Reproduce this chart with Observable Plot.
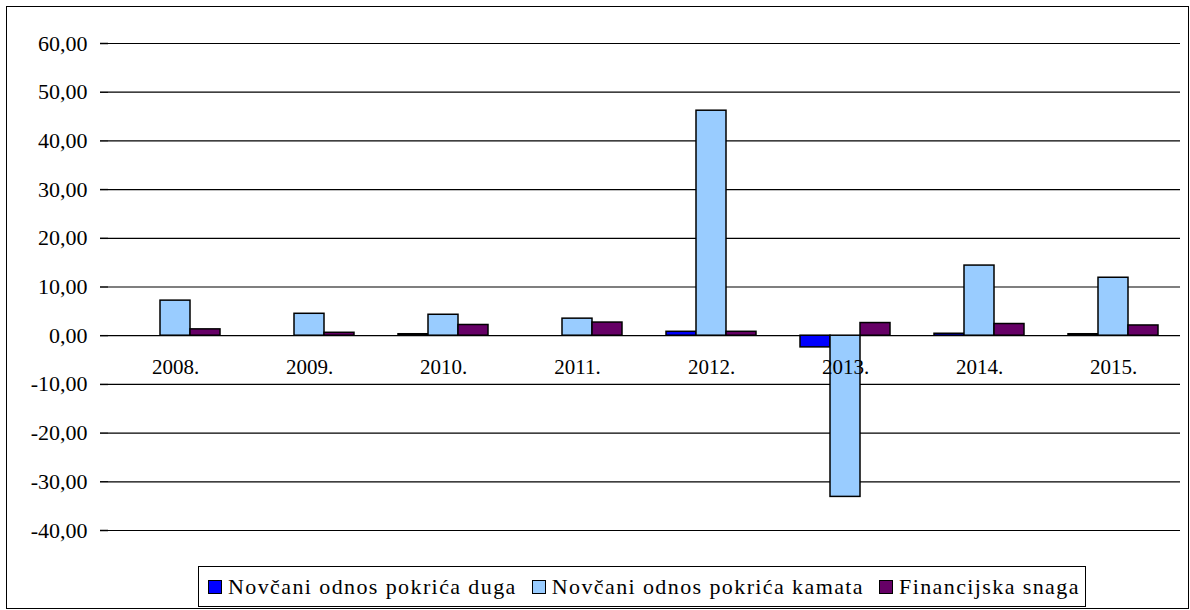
<!DOCTYPE html>
<html><head><meta charset="utf-8">
<script src="https://cdn.jsdelivr.net/npm/d3@7"></script>
<script src="https://cdn.jsdelivr.net/npm/@observablehq/plot@0.6"></script>
<style>
body{margin:0;width:1190px;height:610px;position:relative;background:#fff;font-family:"Liberation Serif","Times New Roman","DejaVu Serif",serif;overflow:hidden}
#frame{position:absolute;left:6px;top:6px;width:1183px;height:603px;border:1.5px solid #000;box-sizing:border-box}
#chart{position:absolute;left:0;top:0}
#chart svg text{font-family:"Liberation Serif","Times New Roman",serif}
#legend{position:absolute;left:198px;top:566px;width:888px;height:41px;border:1.5px solid #000;box-sizing:border-box;display:flex;align-items:center;justify-content:flex-start;padding-left:9px;font-family:"Liberation Serif","Times New Roman",serif;font-size:22px;letter-spacing:1.4px;white-space:nowrap;background:#fff;color:#000}
.item{display:flex;align-items:center;margin-right:15px}
.sw{display:inline-block;width:12px;height:12px;border:1px solid #000;margin-right:6px}
</style></head><body>
<div id="frame"></div><div id="chart"></div><div id="legend"></div>
<script>
const years = ["2008.","2009.","2010.","2011.","2012.","2013.","2014.","2015."];
const series = ["Novčani odnos pokrića duga","Novčani odnos pokrića kamata","Financijska snaga"];
const colors = ["#0000ff","#99ccff","#660066"];
const duga   = [0.0, 0.0, 0.3, 0.0, 0.8, -2.4, 0.4, 0.3];
const kamata = [7.2, 4.5, 4.3, 3.5, 46.2, -33.1, 14.4, 11.9];
const snaga  = [1.3, 0.6, 2.2, 2.7, 0.8, 2.6, 2.4, 2.1];
const yTicks = [-40,-30,-20,-10,0,10,20,30,40,50,60];

const values = [duga, kamata, snaga];
const data = [];
years.forEach((yr, i) => series.forEach((s, j) => data.push({year: yr, series: s, value: values[j][i]})));

const fmt = d => d.toFixed(2).replace(".", ",");
const serif = "'Liberation Serif','Times New Roman',serif";

const chart = Plot.plot({
  width: 1190, height: 560,
  marginLeft: 107, marginRight: 10, marginTop: 43, marginBottom: 30,
  style: {fontFamily: serif, fontSize: "22px", color: "#000", background: "transparent"},
  fx: {domain: years, padding: 0, axis: null},
  x: {domain: series, paddingInner: 0, paddingOuter: 0.68, axis: null},
  y: {domain: [-40, 60], axis: null},
  color: {domain: series, range: colors},
  marks: [
    Plot.ruleY(yTicks, {stroke: "#000", strokeWidth: 1.2}),
    Plot.ruleX([years[0]], {fx: d => d, y1: -40, y2: 60, dx: -67, stroke: "#000", strokeWidth: 1.5}),
    Plot.barY(data, {fx: "year", x: "series", y: "value", fill: "series", stroke: "#000", strokeWidth: 1.5}),
    Plot.ruleX(years, {fx: d => d, y1: 0, y2: 0, insetBottom: -7, dx: 67, stroke: "#000", strokeWidth: 1.5}),
    Plot.text(years, {fx: d => d, y: 0, dy: 32, text: d => d, fontSize: 21, fontFamily: serif, fill: "#000"}),
    Plot.axisY(yTicks, {anchor: "left", label: null, tickFormat: fmt, tickSize: 8, tickPadding: 13, fontSize: 22, fontFamily: serif, strokeWidth: 1.5})
  ]
});
document.getElementById("chart").appendChild(chart);

const legend = document.getElementById("legend");
series.forEach((s, j) => {
  const it = document.createElement("span");
  it.className = "item";
  const sw = document.createElement("span");
  sw.className = "sw"; sw.style.background = colors[j];
  it.appendChild(sw);
  it.appendChild(document.createTextNode(s));
  legend.appendChild(it);
});
</script>
</body></html>
